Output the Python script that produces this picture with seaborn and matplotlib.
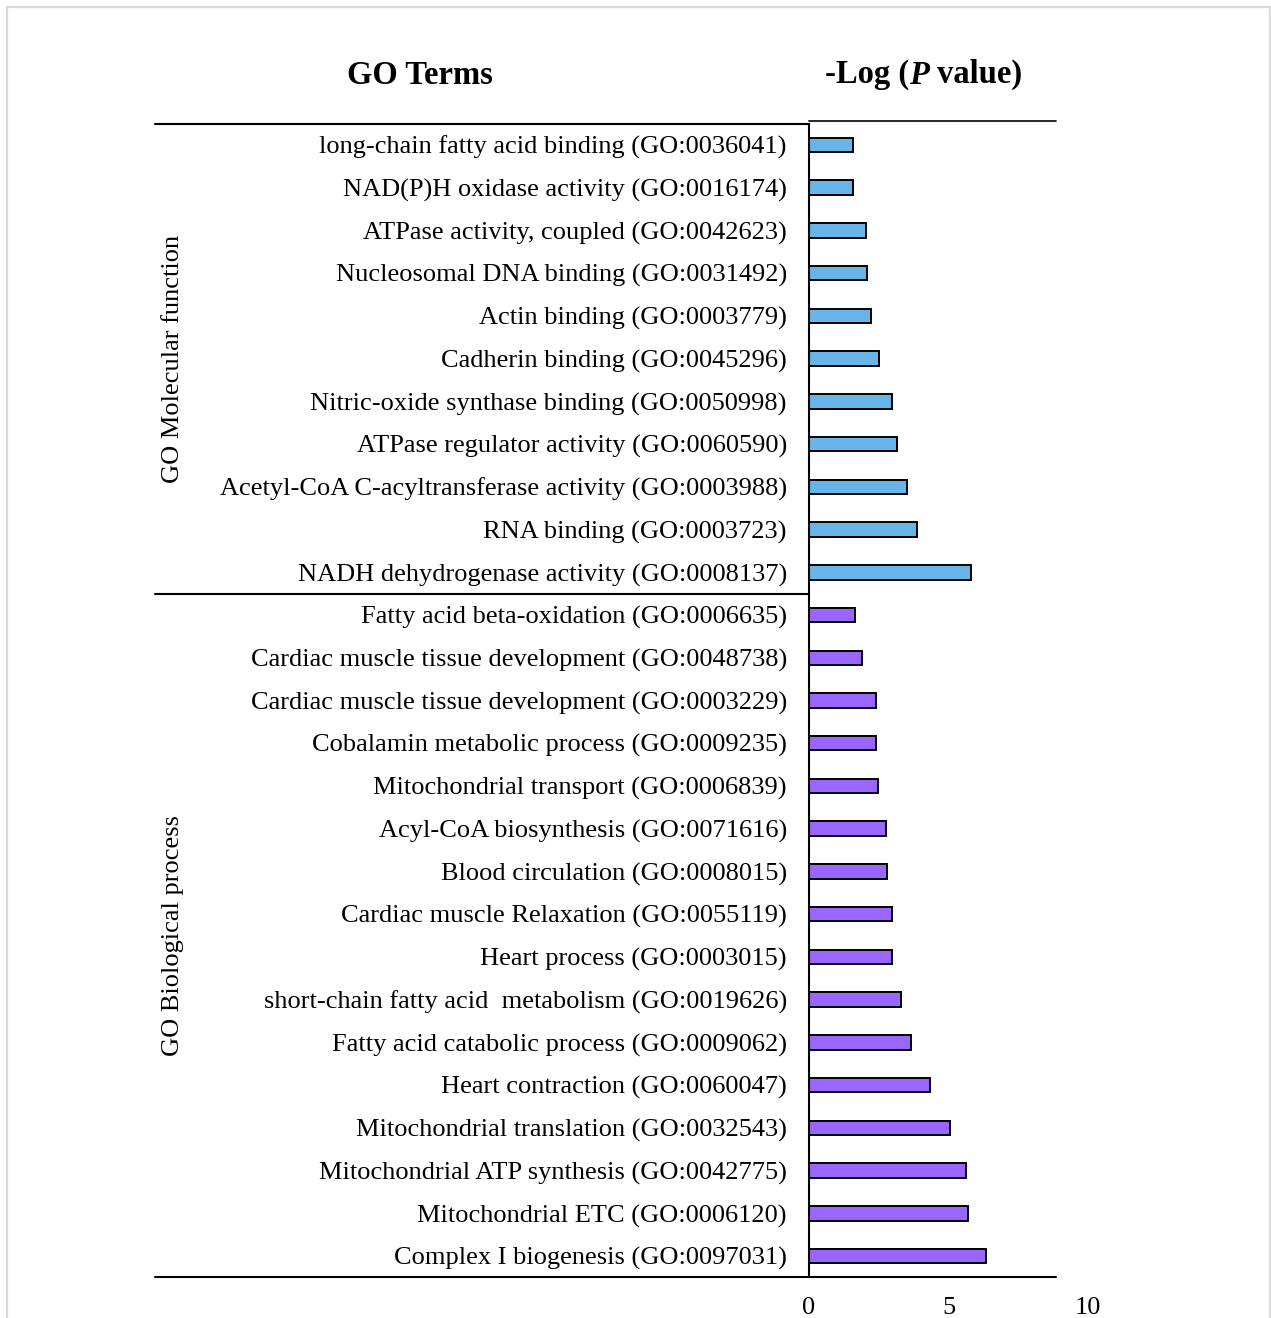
import pandas as pd
import seaborn as sns
import matplotlib.pyplot as plt
from matplotlib.patches import Rectangle
import matplotlib.transforms as mtransforms

mf_terms = [
    "long-chain fatty acid binding (GO:0036041)",
    "NAD(P)H oxidase activity (GO:0016174)",
    "ATPase activity, coupled (GO:0042623)",
    "Nucleosomal DNA binding (GO:0031492)",
    "Actin binding (GO:0003779)",
    "Cadherin binding (GO:0045296)",
    "Nitric-oxide synthase binding (GO:0050998)",
    "ATPase regulator activity (GO:0060590)",
    "Acetyl-CoA C-acyltransferase activity (GO:0003988)",
    "RNA binding (GO:0003723)",
    "NADH dehydrogenase activity (GO:0008137)",
]
mf_values = [1.57, 1.57, 2.04, 2.09, 2.21, 2.52, 2.97, 3.14, 3.52, 3.87, 5.81]

bp_terms = [
    "Fatty acid beta-oxidation (GO:0006635)",
    "Cardiac muscle tissue development (GO:0048738)",
    "Cardiac muscle tissue development (GO:0003229)",
    "Cobalamin metabolic process (GO:0009235)",
    "Mitochondrial transport (GO:0006839)",
    "Acyl-CoA biosynthesis (GO:0071616)",
    "Blood circulation (GO:0008015)",
    "Cardiac muscle Relaxation (GO:0055119)",
    "Heart process (GO:0003015)",
    "short-chain fatty acid  metabolism (GO:0019626)",
    "Fatty acid catabolic process (GO:0009062)",
    "Heart contraction (GO:0060047)",
    "Mitochondrial translation (GO:0032543)",
    "Mitochondrial ATP synthesis (GO:0042775)",
    "Mitochondrial ETC (GO:0006120)",
    "Complex I biogenesis (GO:0097031)",
]
bp_values = [1.66, 1.91, 2.40, 2.40, 2.46, 2.77, 2.81, 2.98, 2.98, 3.28,
             3.67, 4.32, 5.05, 5.62, 5.69, 6.35]

groups = ["GO Molecular function", "GO Biological process"]
colors = ["#66B4E8", "#9966FF"]

df = pd.DataFrame({
    "term": mf_terms + bp_terms,
    "value": mf_values + bp_values,
    "group": [groups[0]] * len(mf_terms) + [groups[1]] * len(bp_terms),
})

sns.set_style("white")
plt.rcParams["font.family"] = ["Liberation Serif", "DejaVu Serif"]
plt.rcParams.update({"text.color": "black", "xtick.color": "black",
                     "ytick.color": "black", "axes.labelcolor": "black"})

W, H = 1271, 1318
fs = 19
fig = plt.figure(figsize=(W / 100, H / 100), dpi=100)
ax = fig.add_axes([809 / W, 1 - 1277.4 / H, 279 / W, 1153.8 / H])

sns.barplot(data=df, y="term", x="value", hue="group", palette=colors,
            saturation=1, dodge=False, width=0.34, edgecolor="black",
            linewidth=1.4, legend=False, ax=ax)

n_all = len(df)
ax.set_xlim(0, 10)
ax.set_ylim(n_all - 0.5, -0.5)
ax.set_xticks([0, 5, 10])
ax.set_xlabel("")
ax.set_ylabel("")
ax.tick_params(axis="y", length=0, pad=16, labelsize=fs)
ax.tick_params(axis="x", length=0, pad=14, labelsize=fs)
for s in ["top", "bottom", "right"]:
    ax.spines[s].set_visible(False)
ax.spines["left"].set_linewidth(1.5)
ax.spines["left"].set_color("black")

# frame lines like the original table layout
x_left = (155 - 809) / 279
x_right = (1056 - 809) / 279
ax.plot([x_left, 0], [1, 1], transform=ax.transAxes, color="black", lw=1.5, clip_on=False)
ax.plot([0, x_right], [1 + 2.5 / 1154, 1 + 2.5 / 1154], transform=ax.transAxes,
        color="black", lw=1.2, clip_on=False)
ax.plot([x_left, x_right], [0, 0], transform=ax.transAxes, color="black", lw=1.5, clip_on=False)
blend = mtransforms.blended_transform_factory(ax.transAxes, ax.transData)
n_mf = len(mf_terms)
ax.plot([x_left, 0], [n_mf - 0.5, n_mf - 0.5], transform=blend, color="black",
        lw=1.5, clip_on=False)
ax.set_ylim(n_all - 0.5, -0.5)

# group labels
ax.text((173 - 809) / 279, (n_mf - 1) / 2, groups[0], transform=blend, rotation=90,
        ha="center", va="center", fontsize=fs)
ax.text((173 - 809) / 279, n_mf + (len(bp_terms) - 1) / 2, groups[1], transform=blend,
        rotation=90, ha="center", va="center", fontsize=fs)

# headers
fig.text(420 / W, 1 - 75 / H, "GO Terms", ha="center", va="center",
         fontsize=23.5, fontweight="bold")
t1 = fig.text(825 / W, 1 - 75 / H, "-Log (", ha="left", va="center",
              fontsize=23.5, fontweight="bold")
t2 = ax.annotate("P", xy=(1, 0), xycoords=t1, ha="left", va="bottom",
                 fontsize=23.5, fontweight="bold", fontstyle="italic",
                 annotation_clip=False)
ax.annotate(" value)", xy=(1, 0), xycoords=t2, ha="left", va="bottom",
            fontsize=23.5, fontweight="bold", annotation_clip=False)

# light outer frame
fig.patches.append(Rectangle((7 / W, -0.05), (1270 - 7) / W, 1.05 - 7 / H,
                             transform=fig.transFigure, fill=False,
                             edgecolor="#D9D9D9", lw=1.6))

fig.savefig("out.png", dpi=100)
